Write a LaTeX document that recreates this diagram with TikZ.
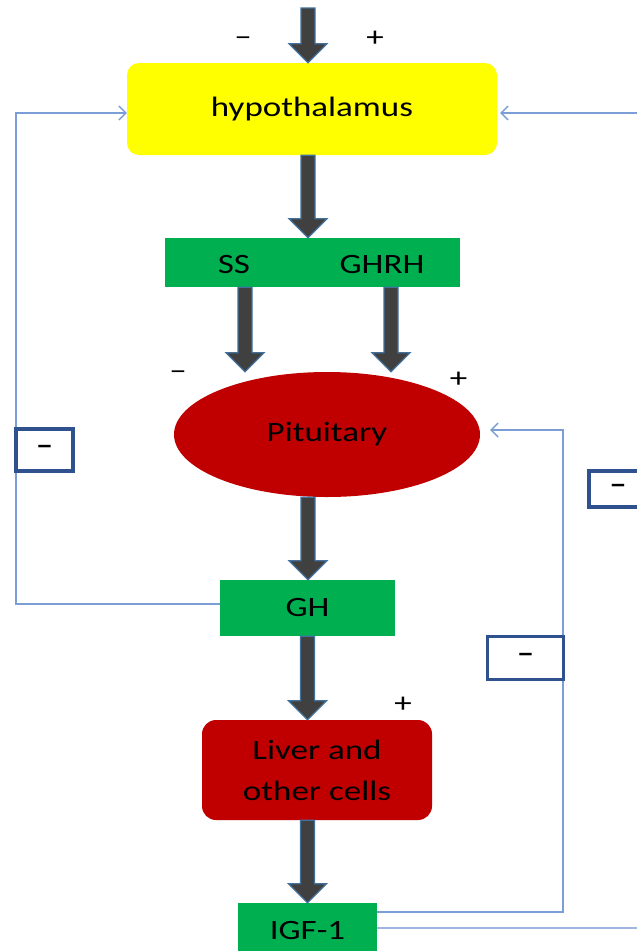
\documentclass[tikz,border=0pt]{standalone}
\usepackage{fontspec}
\setmainfont{Carlito}[FakeStretch=1.25]
\usetikzlibrary{arrows.meta,calc,shapes.geometric}
\definecolor{hypy}{HTML}{FFFF00}
\definecolor{grn}{HTML}{00B050}
\definecolor{rd}{HTML}{C00000}
\definecolor{arrgrey}{HTML}{404040}
\definecolor{arrblue}{HTML}{41719C}
\definecolor{fbc}{HTML}{7C9ED6}
\definecolor{fbc2}{HTML}{9DB7E2}
\definecolor{mboxc}{HTML}{2F528F}
\tikzset{
  lbl/.style={font=\fontsize{28}{41}\selectfont, text=black},
  box/.style={lbl, draw=none, inner sep=0pt, align=center},
  sign/.style={font=\fontsize{28}{34}\selectfont, text=black, inner sep=0pt},
  mbox/.style={draw=mboxc, line width=3.2pt, fill=white, inner sep=0pt, font=\fontsize{28}{34}\bfseries\selectfont},
  fat/.style={fill=arrgrey, draw=arrblue, line width=1.2pt,
    to path={let \p1=(\tikztostart), \p2=(\tikztotarget) in
      (\x1-7pt,\y1) -- (\x1-7pt,\y2+19pt) -- (\x1-19pt,\y2+19pt) -- (\x1,\y2)
      -- (\x1+19pt,\y2+19pt) -- (\x1+7pt,\y2+19pt) -- (\x1+7pt,\y1) -- cycle}},
  fb/.style={draw=fbc, line width=1.4pt},
  fb2/.style={draw=fbc2, line width=2.2pt},
  tipb/.style={-{Straight Barb[length=7pt,width=14pt]}}
}
\begin{document}
\begin{tikzpicture}[x=1pt,y=-1pt]
\useasboundingbox (0,0) rectangle (637,951);
\clip (0,0) rectangle (637,951);
\fill[white] (0,0) rectangle (637,951);

% main nodes
\node[box, fill=hypy, rounded corners=12pt, minimum width=370pt, minimum height=92pt] (hyp) at (312,109) {\raisebox{-3pt}{hypothalamus}};
\node[box, fill=grn, minimum width=295pt, minimum height=49pt] (sg) at (312.5,262.5) {};
\node[lbl, inner sep=0pt] (ss) at (234,265) {SS};
\node[lbl, inner sep=0pt] (ghrh) at (382,265) {GHRH};
\node[ellipse, lbl, fill=rd, inner sep=0pt, minimum width=306pt, minimum height=125pt] (pit) at (327,434.5) {Pituitary};
\node[box, fill=grn, minimum width=175pt, minimum height=56pt] (gh) at (307.5,608) {GH};
\node[box, fill=rd, rounded corners=14pt, minimum width=230pt, minimum height=100pt] (liver) at (317,770) {Liver and\\other cells};
\node[box, fill=grn, minimum width=139pt, minimum height=54pt] (igf) at (307.5,930) {IGF-1};

% signs
\node[sign] (s1) at (243,41) {–};
\node[sign] (s2) at (375,39) {+};
\node[sign] (s3) at (178,375) {–};
\node[sign] (s4) at (458.5,380) {+};
\node[sign] (s5) at (403,705) {+};

% thick arrows
\coordinate (top) at (308,8);
\coordinate (col) at (308,0);
\coordinate (ssx) at (245,0);
\coordinate (ghx) at (391,0);
\path[fat] (top) to (hyp.north -| top);
\path[fat] (hyp.south -| col) to (sg.north -| col);
\path[fat] (sg.south -| ssx) to (pit.north -| ssx);
\path[fat] (sg.south -| ghx) to (pit.north -| ghx);
\path[fat] (pit.south -| col) to (gh.north -| col);
\path[fat] (gh.south) to (liver.north -| gh);
\path[fat] (liver.south -| gh) to (igf.north);

% feedback connectors
\coordinate (lx) at (16,604);
\coordinate (rx) at (563,912);
\coordinate (ox) at (660,928);
\draw[fb, tipb] ([yshift=4pt]gh.west) -- (lx) |- ([yshift=-4pt]hyp.west);
\draw[fb, tipb] ([yshift=18pt]igf.east) -- (rx) |- ([shift={(10pt,4.5pt)}]pit.east);
\draw[fb2] ([yshift=2pt]igf.east) -- (ox);
\draw[fb, tipb] (ox) |- ([shift={(3pt,-4pt)}]hyp.east);

% minus boxes
\node[mbox, minimum width=57pt, minimum height=42pt] (b1) at (44.5,450) {–};
\node[mbox, minimum width=76pt, minimum height=43pt] (b2) at (525.5,658) {–};
\node[mbox, minimum width=58pt, minimum height=36pt] (b3) at (618,489) {–};
\end{tikzpicture}
\end{document}
